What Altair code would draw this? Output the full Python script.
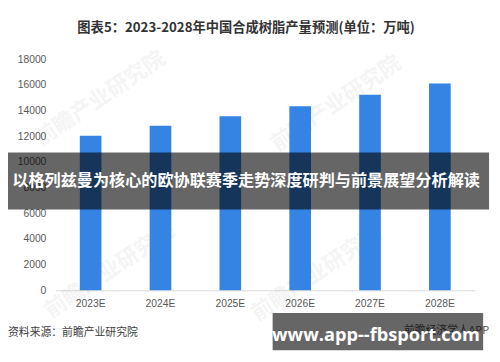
import altair as alt
import pandas as pd

# ---- data ----
years = ["2023E", "2024E", "2025E", "2026E", "2027E", "2028E"]
output = [12030, 12800, 13550, 14320, 15220, 16090]
y_ticks = [0, 2000, 4000, 6000, 8000, 10000, 12000, 14000, 16000, 18000]

title_text = "图表5：2023-2028年中国合成树脂产量预测(单位：万吨)"
banner_text = "以格列兹曼为核心的欧协联赛季走势深度研判与前景展望分析解读"
source_text = "资料来源：前瞻产业研究院"
app_text = "前瞻经济学人APP"
site_text = "www.app--fbsport.com"
watermark_text = "前瞻产业研究院"

df = pd.DataFrame({"year": years, "output": output})
one = pd.DataFrame({"k": [0]})

CJK = "Noto Sans CJK SC"
LAT = "Liberation Sans"

W, H = 426, 235

bars = alt.Chart(df).mark_bar(color="#3584e4").encode(
    x=alt.X(
        "year:N",
        sort=years,
        scale=alt.Scale(paddingInner=0.69, paddingOuter=0.345),
        axis=alt.Axis(
            title=None, labelAngle=0, ticks=False, domainColor="#d9d9d9",
            labelColor="#595959", labelFont=LAT, labelFontSize=10.5,
            labelPadding=9,
        ),
    ),
    y=alt.Y(
        "output:Q",
        scale=alt.Scale(domain=[0, 18000]),
        axis=alt.Axis(
            title=None, values=y_ticks, grid=False, ticks=False, domain=False,
            labelColor="#595959", labelFont=LAT, labelFontSize=10.5,
            labelPadding=10, format="d",
        ),
    ),
)


def text_layer(txt, x, y, size, color, weight="normal", align="center",
               font=CJK, angle=0, opacity=1.0, baseline="middle"):
    return alt.Chart(one).mark_text(
        text=txt, fontSize=size, color=color, fontWeight=weight, align=align,
        font=font, angle=angle, opacity=opacity, baseline=baseline,
    ).encode(x=alt.value(x), y=alt.value(y))


def rect_layer(x, x2, y, y2, color, opacity):
    return alt.Chart(one).mark_rect(color=color, opacity=opacity).encode(
        x=alt.value(x), x2=alt.value(x2), y=alt.value(y), y2=alt.value(y2)
    )


watermarks = [
    text_layer(watermark_text, 45, 40, 22, "#000000", "bold", angle=326, opacity=0.04),
    text_layer(watermark_text, 285, 45, 22, "#000000", "bold", angle=326, opacity=0.04),
    text_layer(watermark_text, 55, 215, 22, "#000000", "bold", angle=326, opacity=0.04),
    text_layer(watermark_text, 265, 218, 22, "#000000", "bold", angle=326, opacity=0.04),
]

title = text_layer(title_text, 193.5, -32, 13.5, "#333333", "bold")
band = rect_layer(-48.5, 440.5, 95, 153, "#000000", 0.6)
band_txt = text_layer(banner_text, 193.5, 124, 16.4, "#ffffff", "bold")
source = text_layer(source_text, -48.5, 279, 11, "#404040", align="left")
app = text_layer(app_text, 440.5, 276, 11, "#555555", align="right")
box = rect_layer(220.5, 434.5, 258, 296, "#000000", 0.6)
site = text_layer(site_text, 325.5, 281, 18.5, "#ffffff", "bold", font="Open Sans")

chart = alt.layer(
    *watermarks, bars, title, band, band_txt, source, app, box, site
).properties(
    width=W,
    height=H,
    autosize=alt.AutoSizeParams(type="none"),
    padding={"left": 48.5, "top": 49, "right": 17.5, "bottom": 70},
    background="#ffffff",
).configure_view(stroke=None)

chart.save("out.html", embed_options={"renderer": "svg", "actions": False})
